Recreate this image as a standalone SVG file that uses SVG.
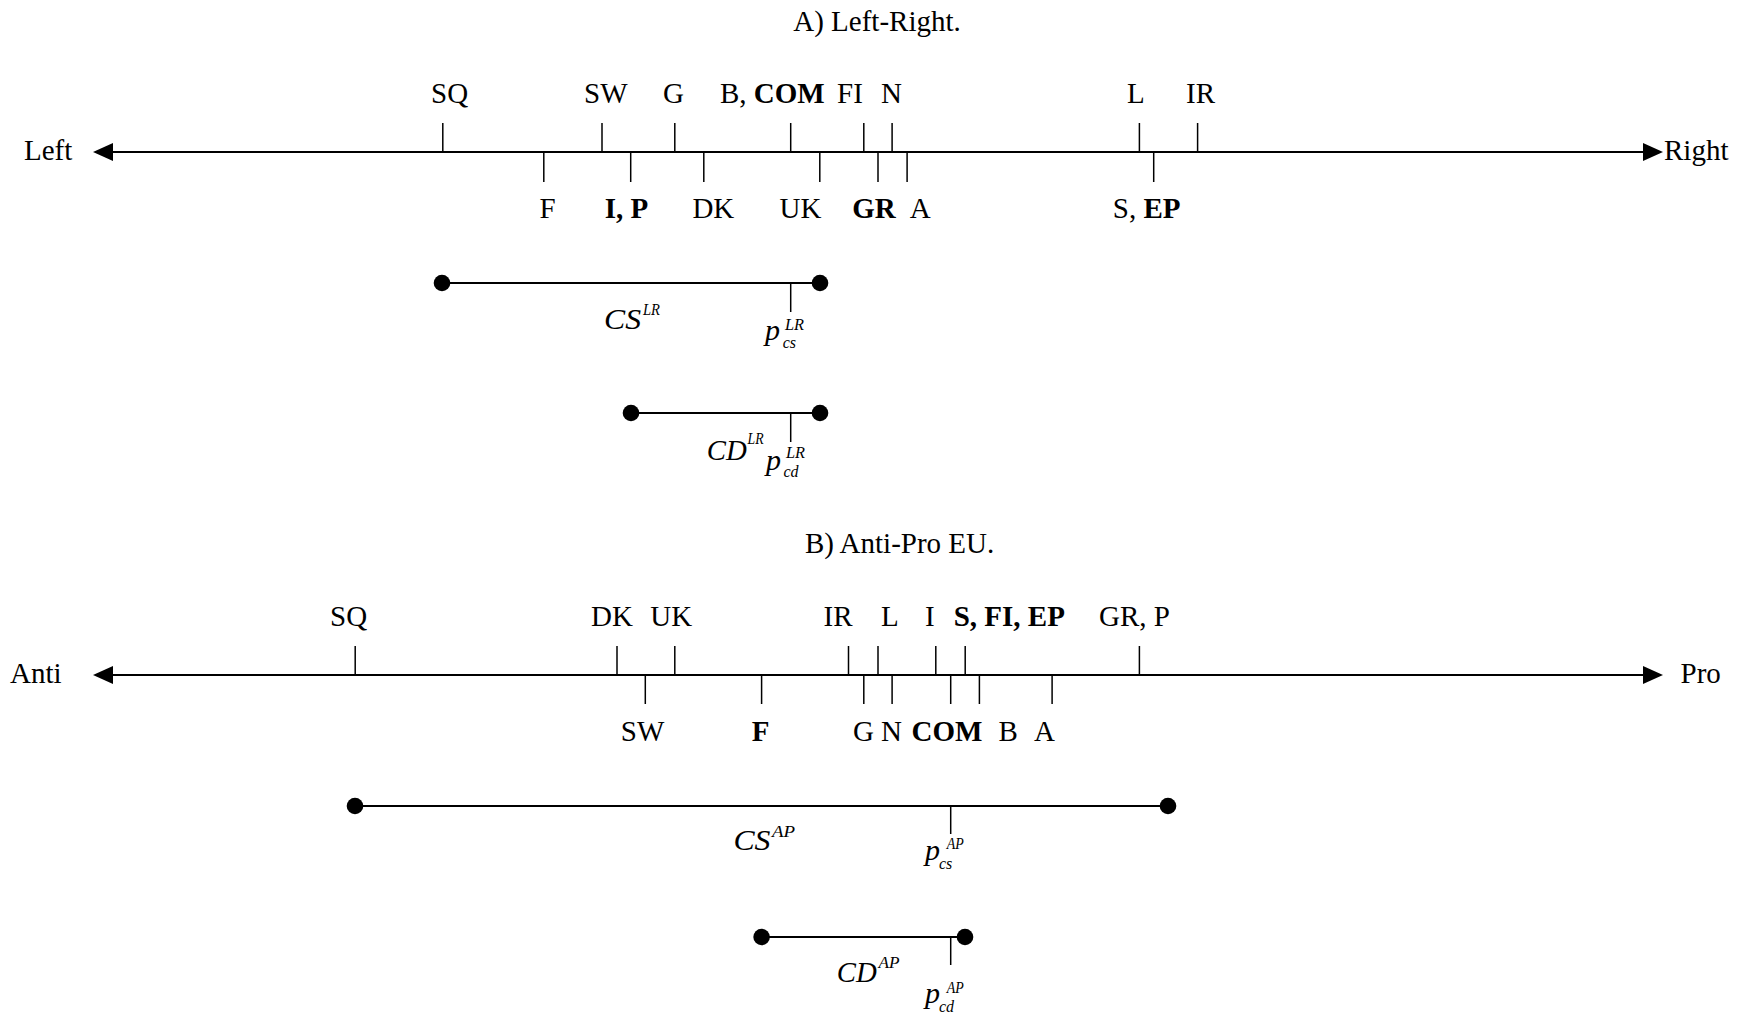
<svg xmlns="http://www.w3.org/2000/svg" width="1739" height="1016" viewBox="0 0 1739 1016">
<style>
text{font-family:"Liberation Serif","Times New Roman",serif;font-size:29px;fill:#000}
.b{font-weight:bold}
.m{font-style:italic;font-size:30px}
.s{font-style:italic;font-size:16px}
.mid{text-anchor:middle}
.axis{stroke:#000;stroke-width:2;fill:none}
.tick{stroke:#000;stroke-width:1.5}
.seg{stroke:#000;stroke-width:2}
.dot{fill:#000}
</style>
<defs>
<marker id="arr" markerUnits="userSpaceOnUse" markerWidth="20" markerHeight="18" refX="17" refY="9" orient="auto-start-reverse">
<path d="M0,0 L20,9 L0,18 z" fill="#000"/>
</marker>
</defs>
<rect width="1739" height="1016" fill="#fff"/>

<g id="connectors">
<line class="axis" x1="96" y1="152" x2="1660" y2="152" marker-start="url(#arr)" marker-end="url(#arr)"/>
<line class="axis" x1="96" y1="675" x2="1660" y2="675" marker-start="url(#arr)" marker-end="url(#arr)"/>
<line class="seg" x1="442" y1="283" x2="820" y2="283"/>
<line class="seg" x1="631" y1="413" x2="820" y2="413"/>
<line class="seg" x1="355" y1="806" x2="1168" y2="806"/>
<line class="seg" x1="761.6" y1="937" x2="965" y2="937"/>
</g>

<!-- Section A -->
<g id="titleA"><text class="mid" x="877" y="31">A) Left-Right.</text></g>
<g id="leftLabel"><text x="24" y="160">Left</text></g>
<g id="rightLabel"><text x="1664" y="160">Right</text></g>

<g id="A-SQ"><line class="tick" x1="442.8" y1="123" x2="442.8" y2="152"/><text x="431" y="102.5">SQ</text></g>
<g id="A-SW"><line class="tick" x1="602" y1="123" x2="602" y2="152"/><text x="584" y="102.5">SW</text></g>
<g id="A-G"><line class="tick" x1="674.8" y1="123" x2="674.8" y2="152"/><text x="663" y="102.5">G</text></g>
<g id="A-COM"><line class="tick" x1="790.7" y1="123" x2="790.7" y2="152"/><text x="720" y="102.5">B, <tspan class="b">COM</tspan></text></g>
<g id="A-FI"><line class="tick" x1="863.8" y1="123" x2="863.8" y2="152"/><text x="837" y="102.5">FI</text></g>
<g id="A-N"><line class="tick" x1="892.1" y1="123" x2="892.1" y2="152"/><text x="881" y="102.5">N</text></g>
<g id="A-L"><line class="tick" x1="1139.4" y1="123" x2="1139.4" y2="152"/><text x="1127" y="102.5">L</text></g>
<g id="A-IR"><line class="tick" x1="1197.6" y1="123" x2="1197.6" y2="152"/><text x="1186" y="102.5">IR</text></g>

<g id="A-F"><line class="tick" x1="543.8" y1="152" x2="543.8" y2="182"/><text x="539.6" y="218">F</text></g>
<g id="A-IP"><line class="tick" x1="630.7" y1="152" x2="630.7" y2="182"/><text class="b" x="604.7" y="218">I, P</text></g>
<g id="A-DK"><line class="tick" x1="703.8" y1="152" x2="703.8" y2="182"/><text x="692.4" y="218">DK</text></g>
<g id="A-UK"><line class="tick" x1="819.8" y1="152" x2="819.8" y2="182"/><text x="779.6" y="218">UK</text></g>
<g id="A-GR"><line class="tick" x1="878" y1="152" x2="878" y2="182"/><text class="b" x="852.3" y="218">GR</text></g>
<g id="A-A"><line class="tick" x1="907.1" y1="152" x2="907.1" y2="182"/><text x="909.7" y="218">A</text></g>
<g id="A-SEP"><line class="tick" x1="1153.7" y1="152" x2="1153.7" y2="182"/><text x="1112.8" y="218">S, <tspan class="b">EP</tspan></text></g>

<g id="CS-LR">
<circle class="dot" cx="442" cy="283" r="8.3"/><circle class="dot" cx="820" cy="283" r="8.3"/>
<text class="m" x="604" y="329" textLength="37" lengthAdjust="spacingAndGlyphs">CS</text>
<text class="s" x="643" y="315" textLength="17" lengthAdjust="spacingAndGlyphs">LR</text>
</g>
<g id="pcs-LR">
<line class="tick" x1="790.7" y1="283" x2="790.7" y2="312"/>
<text class="m" x="765" y="340">p</text>
<text class="s" x="785" y="330" textLength="19" lengthAdjust="spacingAndGlyphs">LR</text>
<text class="s" x="782.7" y="348">cs</text>
</g>
<g id="CD-LR">
<circle class="dot" cx="631" cy="413" r="8.3"/><circle class="dot" cx="820" cy="413" r="8.3"/>
<text class="m" x="706.7" y="460" textLength="40" lengthAdjust="spacingAndGlyphs">CD</text>
<text class="s" x="747.5" y="444" textLength="16" lengthAdjust="spacingAndGlyphs">LR</text>
</g>
<g id="pcd-LR">
<line class="tick" x1="790.7" y1="413" x2="790.7" y2="442"/>
<text class="m" x="766" y="470">p</text>
<text class="s" x="786" y="458" textLength="19" lengthAdjust="spacingAndGlyphs">LR</text>
<text class="s" x="783.5" y="477">cd</text>
</g>

<!-- Section B -->
<g id="titleB"><text class="mid" x="899.6" y="553">B) Anti-Pro EU.</text></g>
<g id="antiLabel"><text x="10" y="683">Anti</text></g>
<g id="proLabel"><text x="1680.5" y="683">Pro</text></g>

<g id="B-SQ"><line class="tick" x1="355.2" y1="646" x2="355.2" y2="675"/><text x="330" y="626">SQ</text></g>
<g id="B-DK"><line class="tick" x1="617" y1="646" x2="617" y2="675"/><text x="591" y="626">DK</text></g>
<g id="B-UK"><line class="tick" x1="674.8" y1="646" x2="674.8" y2="675"/><text x="650.3" y="626">UK</text></g>
<g id="B-IR"><line class="tick" x1="848.5" y1="646" x2="848.5" y2="675"/><text x="823.6" y="626">IR</text></g>
<g id="B-L"><line class="tick" x1="878" y1="646" x2="878" y2="675"/><text x="881" y="626">L</text></g>
<g id="B-I"><line class="tick" x1="935.8" y1="646" x2="935.8" y2="675"/><text x="925" y="626">I</text></g>
<g id="B-SFIEP"><line class="tick" x1="965.2" y1="646" x2="965.2" y2="675"/><text class="b" x="953.7" y="626">S, FI, EP</text></g>
<g id="B-GRP"><line class="tick" x1="1139.4" y1="646" x2="1139.4" y2="675"/><text x="1099" y="626">GR, P</text></g>

<g id="B-SW"><line class="tick" x1="645.3" y1="675" x2="645.3" y2="704"/><text x="620.8" y="741">SW</text></g>
<g id="B-F"><line class="tick" x1="761.6" y1="675" x2="761.6" y2="704"/><text class="b" x="751.7" y="741">F</text></g>
<g id="B-G"><line class="tick" x1="863.8" y1="675" x2="863.8" y2="704"/><text x="853" y="741">G</text></g>
<g id="B-N"><line class="tick" x1="892.1" y1="675" x2="892.1" y2="704"/><text x="881" y="741">N</text></g>
<g id="B-COM"><line class="tick" x1="950.7" y1="675" x2="950.7" y2="704"/><text class="b" x="911.6" y="741">COM</text></g>
<g id="B-B"><line class="tick" x1="979.4" y1="675" x2="979.4" y2="704"/><text x="998.5" y="741">B</text></g>
<g id="B-A"><line class="tick" x1="1052.1" y1="675" x2="1052.1" y2="704"/><text x="1034" y="741">A</text></g>

<g id="CS-AP">
<circle class="dot" cx="355" cy="806" r="8.3"/><circle class="dot" cx="1168" cy="806" r="8.3"/>
<text class="m" x="733.4" y="850" textLength="37" lengthAdjust="spacingAndGlyphs">CS</text>
<text class="s" x="772" y="837" textLength="23" lengthAdjust="spacingAndGlyphs">AP</text>
</g>
<g id="pcs-AP">
<line class="tick" x1="950.7" y1="806" x2="950.7" y2="834"/>
<text class="m" x="925" y="860">p</text>
<text class="s" x="946.7" y="849" textLength="17" lengthAdjust="spacingAndGlyphs">AP</text>
<text class="s" x="939" y="869">cs</text>
</g>
<g id="CD-AP">
<circle class="dot" cx="761.6" cy="937" r="8.3"/><circle class="dot" cx="965" cy="937" r="8.3"/>
<text class="m" x="836.7" y="981.7" textLength="40" lengthAdjust="spacingAndGlyphs">CD</text>
<text class="s" x="878.6" y="968" textLength="21" lengthAdjust="spacingAndGlyphs">AP</text>
</g>
<g id="pcd-AP">
<line class="tick" x1="950.7" y1="937" x2="950.7" y2="965"/>
<text class="m" x="925" y="1003">p</text>
<text class="s" x="946.7" y="993" textLength="17" lengthAdjust="spacingAndGlyphs">AP</text>
<text class="s" x="939" y="1012">cd</text>
</g>
</svg>
